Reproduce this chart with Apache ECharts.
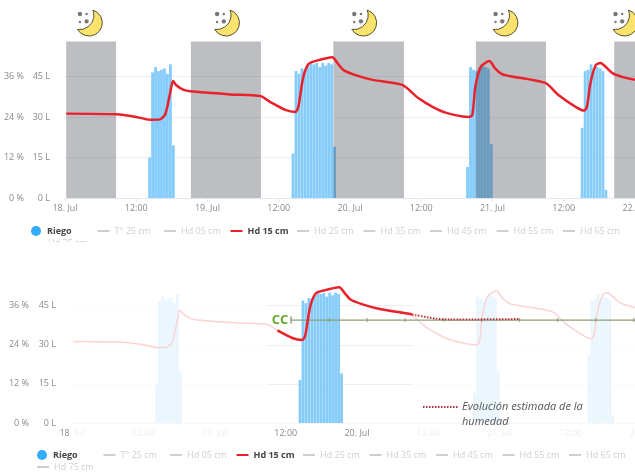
<!DOCTYPE html>
<html>
<head>
<meta charset="utf-8">
<script src="https://cdn.jsdelivr.net/npm/echarts@6/dist/echarts.min.js"></script>
<style>
html, body { margin: 0; padding: 0; background: #fff; }
#chart { width: 635px; height: 475px; }
</style>
</head>
<body>
<div id="chart"></div>
<script>
// hours counted from 18 Jul 00:00
var humHours = [0.2, 8.6, 11.8, 14.3, 16.0, 16.9, 17.7, 18.2, 18.7, 19.9, 21.1, 27.8, 32.9, 34.6, 37.1, 38.8, 39.3, 40.1, 41.0, 42.2, 45.0, 46.0, 46.9, 48.8, 51.8, 56.8, 59.5, 61.9, 64.1, 68.0, 68.6, 69.1, 70.0, 71.5, 72.4, 73.6, 75.0, 80.9, 83.1, 86.0, 87.4, 87.9, 88.5, 89.4, 90.2, 91.1, 92.2, 93.8, 96];
var humPct = [25.0, 24.8, 24.1, 23.2, 23.3, 24.9, 31.1, 34.7, 33.5, 32.1, 31.6, 30.7, 30.2, 28.4, 26.1, 25.5, 27.0, 35.6, 39.7, 40.6, 41.7, 39.7, 37.9, 36.5, 35.0, 33.5, 29.6, 27.0, 25.3, 24.0, 24.6, 32.9, 38.8, 40.6, 38.5, 36.7, 36.1, 34.1, 30.5, 27.0, 25.9, 27.0, 34.1, 39.4, 40.0, 38.8, 37.0, 35.9, 35.0];

var riegoHours = [14.25, 14.75, 15.25, 15.75, 16.25, 16.75, 17.25, 17.75, 18.25,
    38.4, 38.9, 39.4, 39.9, 40.4, 40.9, 41.4, 41.9, 42.4, 42.9, 43.4, 43.9, 44.4, 44.9, 45.4,
    67.8, 68.3, 68.8, 69.3, 69.8, 70.3, 70.8, 71.3, 71.8,
    87.1, 87.6, 88.1, 88.6, 89.1, 89.6, 90.1, 90.6, 91.1];
var riegoLitros = [15, 46.5, 48.5, 47, 47.5, 48, 46, 49.5, 19.5,
    16.5, 47, 46, 48, 47.5, 49, 50, 49.5, 50, 48.5, 50, 49, 50, 49.5, 19,
    11.5, 48.5, 47.5, 47, 48, 49.5, 48.5, 48, 20,
    26, 47, 47.5, 49.5, 48, 48.5, 48, 47, 3];

var nightStart = [0.2, 21.2, 45.2, 69.2, 92.5];
var nightEnd = [8.6, 33.0, 57.1, 81.0, 96];
var moonHours = [4.2, 27.3, 50.4, 74.2, 94.4];

var estHours = [57.3, 61.2, 63.7, 75.4];
var estPct = [33.3, 32.05, 31.75, 31.9];

var ccHours = [36.9, 43.3, 49.7, 56.1, 62.6, 69.0, 75.4, 81.8, 88.2, 94.6];
var ccLevel = 31.6;

var xTickLabels = ['18. Jul', '12:00', '19. Jul', '12:00', '20. Jul', '12:00', '21. Jul', '12:00', '22. Jul'];
var legendNames = ['Riego', 'T° 25 cm', 'Hd 05 cm', 'Hd 15 cm', 'Hd 25 cm', 'Hd 35 cm', 'Hd 45 cm', 'Hd 55 cm', 'Hd 65 cm', 'Hd 75 cm'];
var activeNames = ['Riego', 'Hd 15 cm'];

// window of the lower chart that is not washed out
var focusFrom = 33;
var focusTo = 57.3;

var RED = '#e8212b', BLUE = '#85ccfb';
var moonPath = 'M3,-13 A13,13 0 1 1 -12,6 A14,14 0 0 0 3,-13 Z';
// thin dash, the two empty subpaths hold the icon box open so it does not stretch
var dashIcon = 'path://M0 0L0 0M0 40H120V60H0ZM0 100L0 100';

var humData = humHours.map(function (h, i) { return [h, humPct[i]]; });
var riegoData = riegoHours.map(function (h, i) { return [h, riegoLitros[i]]; });
var nightData = nightStart.map(function (s, i) { return [s, nightEnd[i]]; });
var moonData = moonHours.map(function (h) { return [h, 64.8]; });
var estData = estHours.map(function (h, i) { return [h, estPct[i]]; });
var focusHum = humData.filter(function (d) { return d[0] >= focusFrom && d[0] <= focusTo; }).concat([estData[0]]);

var selected = {};
legendNames.forEach(function (n) { selected[n] = activeNames.indexOf(n) >= 0; });

// one legend per entry, the items sit on a fixed pitch in the reference
function makeLegends(left, top) {
    return legendNames.map(function (n, i) {
        var item = { name: n, icon: dashIcon };
        if (n === 'Riego') {
            item.icon = 'circle';
            item.itemStyle = { color: '#35abfb' };
        }
        if (n === 'Hd 15 cm') {
            item.itemStyle = { color: RED };
        }
        if (activeNames.indexOf(n) >= 0) {
            item.textStyle = { color: '#444', fontWeight: 'bold' };
        }
        return {
            left: i < 9 ? left + i * 66.5 : left,
            top: i < 9 ? top : top + 12,
            itemWidth: 12, itemHeight: 10, padding: 0,
            inactiveColor: '#cfcfcf',
            selected: selected,
            selectedMode: false,
            textStyle: { fontFamily: 'Open Sans', fontSize: 9, color: '#444' },
            data: [item]
        };
    });
}

function riegoBar(color) {
    return function (params, api) {
        var a = api.coord([api.value(0), 0]);
        var b = api.coord([api.value(0), api.value(1)]);
        return {
            type: 'rect',
            shape: { x: a[0] - 1.4, y: b[1], width: 2.8, height: a[1] - b[1] },
            style: { fill: color(api.value(0)) }
        };
    };
}

function nightBand(params, api) {
    var a = api.coord([api.value(0), 0]);
    var b = api.coord([api.value(1), 58]);
    return {
        type: 'rect',
        shape: { x: a[0], y: b[1], width: b[0] - a[0], height: a[1] - b[1] },
        style: { fill: 'rgba(55,58,68,0.33)' }
    };
}

function moon(params, api) {
    var p = api.coord([api.value(0), api.value(1)]);
    return {
        type: 'group', x: p[0], y: p[1],
        children: [
            { type: 'path', shape: { pathData: moonPath, x: -13, y: -13, width: 26, height: 26 }, style: { fill: '#fbe36d', stroke: '#55502f', lineWidth: 1 } },
            { type: 'circle', shape: { cx: -10, cy: -9, r: 2.2 }, style: { fill: '#777' } },
            { type: 'circle', shape: { cx: -3.3, cy: -9, r: 1.2 }, style: { fill: '#777' } },
            { type: 'circle', shape: { cx: -10, cy: -1, r: 1.2 }, style: { fill: '#777' } },
            { type: 'circle', shape: { cx: -3.3, cy: -1.7, r: 2.2 }, style: { fill: '#777' } }
        ]
    };
}

var labelFont = { fontFamily: 'Open Sans', fontSize: 9, color: '#8a8a8a' };

function xAxisBase(gridIndex) {
    return { type: 'value', gridIndex: gridIndex, min: 0, max: 96, interval: 12, splitLine: { show: false } };
}

function yAxisBase(gridIndex, max, interval, unit, margin, lineColor) {
    return {
        type: 'value', gridIndex: gridIndex, min: 0, max: max, interval: interval,
        position: 'left',
        axisLine: { show: false }, axisTick: { show: false },
        axisLabel: Object.assign({ margin: margin, formatter: '{value} ' + unit, showMaxLabel: false }, labelFont),
        splitLine: lineColor ? { show: true, showMaxLine: false, lineStyle: { color: lineColor, width: 1 } } : { show: false }
    };
}

var topX = xAxisBase(0);
topX.axisLine = { show: true, onZero: false, lineStyle: { color: '#e2e6f0' } };
topX.axisTick = { show: true, length: 4, lineStyle: { color: '#e2e6f0' } };
topX.axisLabel = Object.assign({ margin: 6, formatter: function (v) { return xTickLabels[v / 12]; } }, labelFont);

var botX = xAxisBase(1);
botX.axisLine = { show: true, onZero: false, lineStyle: { color: '#f8f8f8' } };
botX.axisTick = { show: false };
botX.axisLabel = {
    margin: 6, fontFamily: 'Open Sans', fontSize: 9,
    formatter: function (v) {
        var t = xTickLabels[v / 12];
        if (v === 0) return '{on|18}{off|. Jul}';
        if (v >= focusFrom && v <= focusTo) return '{on|' + t + '}';
        return '{off|' + t + '}';
    },
    rich: {
        on: { color: '#8a8a8a', fontFamily: 'Open Sans', fontSize: 9 },
        off: { color: '#eeeeee', fontFamily: 'Open Sans', fontSize: 9 }
    }
};

var series = [
    {
        name: 'Riego', type: 'custom', xAxisIndex: 0, yAxisIndex: 0, z: 1,
        renderItem: riegoBar(function () { return BLUE; }),
        encode: { x: 0, y: 1 }, data: riegoData, itemStyle: { color: BLUE }
    },
    {
        type: 'custom', xAxisIndex: 0, yAxisIndex: 0, z: 3,
        renderItem: nightBand, encode: { x: [0, 1] }, data: nightData
    },
    {
        type: 'custom', xAxisIndex: 0, yAxisIndex: 0, z: 3,
        renderItem: moon, encode: { x: 0, y: 1 }, data: moonData
    },
    {
        name: 'Hd 15 cm', type: 'line', xAxisIndex: 0, yAxisIndex: 1, z: 5, smooth: 0.25,
        symbol: 'none', data: humData, lineStyle: { color: RED, width: 2.5 }, itemStyle: { color: RED }
    },
    {
        name: 'Riego', type: 'custom', xAxisIndex: 1, yAxisIndex: 2, z: 1,
        renderItem: riegoBar(function (h) { return h >= focusFrom && h <= focusTo ? BLUE : '#eaf6fe'; }),
        encode: { x: 0, y: 1 }, data: riegoData, itemStyle: { color: BLUE }
    },
    {
        type: 'line', xAxisIndex: 1, yAxisIndex: 3, z: 2, smooth: 0.25,
        symbol: 'none', data: humData, lineStyle: { color: '#fbd3d3', width: 1.5 }
    },
    {
        // grid lines only show at full strength inside the clear window
        type: 'line', xAxisIndex: 1, yAxisIndex: 2, z: 0, data: [], symbol: 'none',
        markLine: {
            silent: true, symbol: 'none', label: { show: false }, animation: false, z: 0,
            lineStyle: { color: '#eceef3', width: 1, type: 'solid' },
            data: [0, 15, 30, 45].map(function (v) {
                return [{ coord: [focusFrom, v] }, { coord: [focusTo, v] }];
            })
        }
    },
    {
        type: 'line', xAxisIndex: 1, yAxisIndex: 3, z: 4, showAllSymbol: true,
        symbol: 'rect', symbolSize: [1, 4],
        lineStyle: { color: '#8f9f78', width: 1.2 }, itemStyle: { color: '#8f9f78' },
        data: ccHours.concat([96]).map(function (h, i) {
            var d = { value: [h, ccLevel] };
            if (i === 0) {
                d.symbolSize = [1.5, 7];
                d.label = {
                    show: true, position: 'left', distance: 2, formatter: 'CC',
                    color: '#67a82f', fontFamily: 'Open Sans', fontSize: 13, fontWeight: 'bold'
                };
            }
            return d;
        })
    },
    {
        name: 'Hd 15 cm', type: 'line', xAxisIndex: 1, yAxisIndex: 3, z: 5, smooth: 0.25,
        symbol: 'none', data: focusHum, lineStyle: { color: RED, width: 2.5 }, itemStyle: { color: RED }
    },
    {
        type: 'line', xAxisIndex: 1, yAxisIndex: 3, z: 5, smooth: 0.25,
        symbol: 'none', data: estData, lineStyle: { color: '#b8303f', width: 2, type: [1.5, 1.5] }
    }
];

// the switched-off depths only exist for the legend
legendNames.forEach(function (n) {
    if (activeNames.indexOf(n) < 0) {
        series.push({
            name: n, type: 'line', xAxisIndex: 0, yAxisIndex: 1, symbol: 'none', data: [],
            lineStyle: { color: '#cfcfcf', width: 2 }
        });
    }
});

var myChart = echarts.init(document.getElementById('chart'), null, { renderer: 'canvas' });
var option = {
    animation: false,
    backgroundColor: '#fff',
    grid: [
        { left: 65, top: 36, width: 570, height: 162, outerBoundsMode: 'none' },
        { left: 72, top: 266.6, width: 570, height: 156.4, outerBoundsMode: 'none' }
    ],
    xAxis: [topX, botX],
    yAxis: [
        yAxisBase(0, 60, 15, 'L', 15, '#edf0f5'),
        yAxisBase(0, 48, 12, '%', 41, null),
        yAxisBase(1, 60, 15, 'L', 16, '#fbfbfb'),
        yAxisBase(1, 48, 12, '%', 43, null)
    ],
    legend: makeLegends(31, 226).concat(makeLegends(37, 450)),
    series: series,
    graphic: [
        { type: 'rect', z: 100, shape: { x: 0, y: 242, width: 635, height: 8 }, style: { fill: '#fff' } },
        { type: 'line', z: 100, shape: { x1: 423, y1: 407, x2: 458, y2: 407 }, style: { stroke: '#b8303f', lineWidth: 2, lineDash: [1.5, 1.5] } },
        {
            type: 'text', z: 100, x: 462, y: 399,
            style: {
                text: 'Evolución estimada de la\nhumedad',
                fill: '#555', fontFamily: 'Open Sans', fontSize: 11, fontStyle: 'italic', lineHeight: 15
            }
        }
    ]
};
myChart.setOption(option, true);
</script>
</body>
</html>
